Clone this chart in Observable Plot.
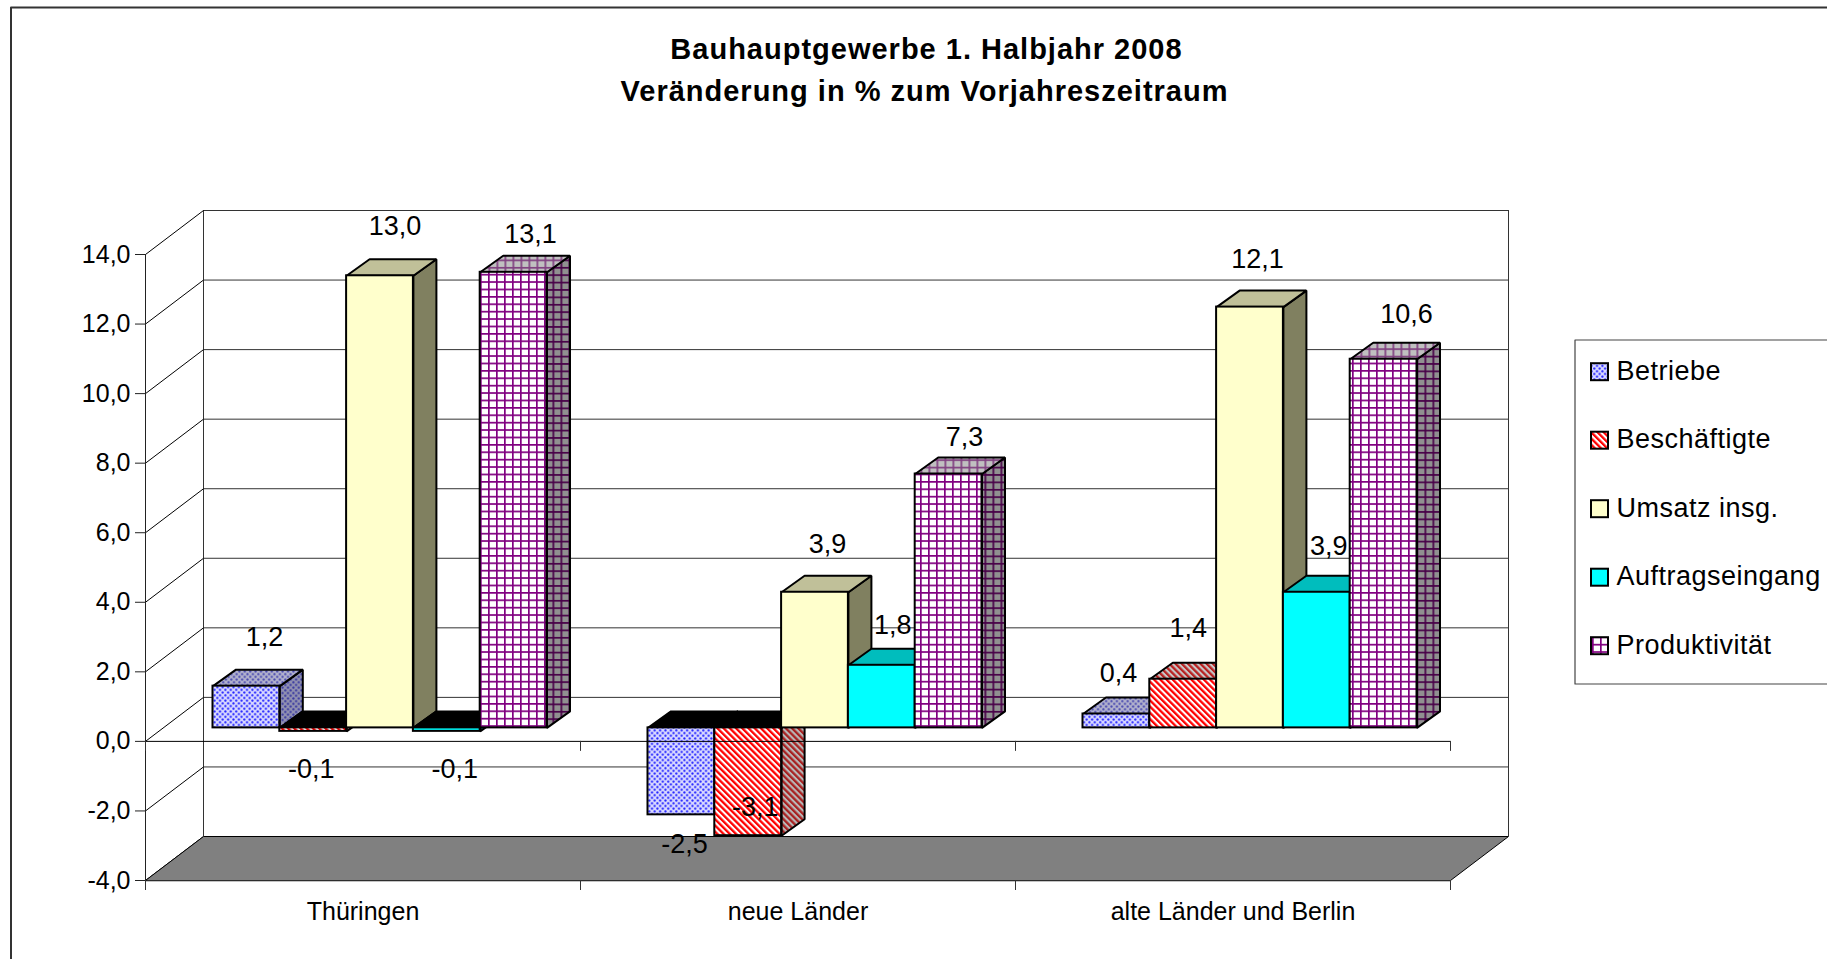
<!DOCTYPE html>
<html lang="de">
<head>
<meta charset="utf-8">
<title>Bauhauptgewerbe 1. Halbjahr 2008</title>
<script src="https://cdn.jsdelivr.net/npm/d3@7"></script>
<script src="https://cdn.jsdelivr.net/npm/@observablehq/plot@0.6"></script>
<style>
  html, body { margin: 0; padding: 0; background: #fff; overflow: hidden; }
  svg { display: block; }
  .legend-text text { letter-spacing: 0.5px; }
  .title-text text { letter-spacing: 1px; }
</style>
</head>
<body>
<div id="chart"></div>
<script>
// ---- data ----
const categories = ["Thüringen", "neue Länder", "alte Länder und Berlin"];
const seriesNames = ["Betriebe", "Beschäftigte", "Umsatz insg.", "Auftragseingang", "Produktivität"];
const betriebe = [1.2, -2.5, 0.4];
const beschaeftigte = [-0.1, -3.1, 1.4];
const umsatz = [13.0, 3.9, 12.1];
const auftragseingang = [-0.1, 1.8, 3.9];
const produktivitaet = [13.1, 7.3, 10.6];
const yTicks = [-4, -2, 0, 2, 4, 6, 8, 10, 12, 14];
const titleLines = ["Bauhauptgewerbe 1. Halbjahr 2008", "Veränderung in % zum Vorjahreszeitraum"];

// ---- layout (pixels of the picture) ----
const W = 1827, H = 959;
const pLeft = 145, pRight = 1450, pTop = 254, pBottom = 880;
const pxX = (pRight - pLeft) / 3, pxY = (pBottom - pTop) / 18;
const xu = px => (px - pLeft) / pxX;            // picture pixel -> x scale unit
const yu = px => -4 + (pBottom - px) / pxY;     // picture pixel -> y scale unit
const wallDx = 58 / pxX, wallDy = 44 / pxY;
const barStart = 67.5 / pxX, barW = 66.8 / pxX;
const barDx = 23 / pxX, barDy = 16.5 / pxY;
const baseY = 13.5 / pxY;
const tickLen = 10 / pxY;
// label offset from the bar's front-top centre, one row per category, one column per series
const labelDx = [[18, -2, 15, 8, 17], [3, 7, 12.5, 11, 16], [2, 5, 7.5, 12, 23]];
const labelDy = [[-49, 38, -49, 38, -38], [29.5, -28, -48, -40, -36.6], [-40.6, -51, -47.7, -46, -45]];

const seriesValues = [betriebe, beschaeftigte, umsatz, auftragseingang, produktivitaet];
const fmt = d => d.toFixed(1).replace(".", ",");
const font = "'Liberation Sans', Arial, sans-serif";

// ---- face fills ----
const faces = [
  {front: "url(#dotsF)", side: "url(#dotsS)", top: "url(#dotsT)"},
  {front: "url(#hatchF)", side: "url(#hatchS)", top: "url(#hatchT)"},
  {front: "#FFFFCC", side: "#808060", top: "#C0C099"},
  {front: "#00FFFF", side: "#008080", top: "#00BDBD"},
  {front: "url(#gridF)", side: "url(#gridS)", top: "url(#gridT)"}
];
const dots = (id, bg, fg) => `<pattern id="${id}" patternUnits="userSpaceOnUse" width="5.4" height="5.4">
  <rect width="5.4" height="5.4" fill="${bg}"/><circle cx="1.3" cy="1.3" r="1.1" fill="${fg}"/><circle cx="4" cy="4" r="1.1" fill="${fg}"/></pattern>`;
const hatch = (id, bg, fg) => `<pattern id="${id}" patternUnits="userSpaceOnUse" width="4.4" height="4.4" patternTransform="rotate(-45)">
  <rect width="4.4" height="4.4" fill="${bg}"/><rect width="2.3" height="4.4" fill="${fg}"/></pattern>`;
const grid = (id, bg, fg) => `<pattern id="${id}" patternUnits="userSpaceOnUse" width="8" height="7.4">
  <rect width="8" height="7.4" fill="${bg}"/><rect width="1.7" height="7.4" fill="${fg}"/><rect width="8" height="1.7" fill="${fg}"/></pattern>`;
const defsMark = () => {
  const d = document.createElementNS("http://www.w3.org/2000/svg", "defs");
  d.innerHTML = dots("dotsF", "#D8D8FF", "#2020FF") + dots("dotsS", "#9090B0", "#3838A0") + dots("dotsT", "#B0B0CC", "#4848B0")
    + hatch("hatchF", "#FFFFFF", "#FF0000") + hatch("hatchS", "#B8B8B8", "#A82020") + hatch("hatchT", "#C8C8C8", "#B82020")
    + grid("gridF", "#FFFFFF", "#800080") + grid("gridS", "#909090", "#480048") + grid("gridT", "#C0C0C0", "#804080");
  return d;
};

// ---- helpers ----
const poly = (pts, fill, strokeWidth = 2) => Plot.line(pts, {
  x: "x", y: "y", curve: "linear-closed", fill, stroke: "#000", strokeWidth, strokeLinejoin: "miter"
});
const path = (pts, stroke, strokeWidth) => Plot.line(pts, {x: "x", y: "y", stroke, strokeWidth});
const pxPts = list => list.map(([x, y]) => ({x: xu(x), y: yu(y)}));

// ---- bars ----
const barMarks = [];
categories.forEach((cat, i) => {
  seriesValues.forEach((vals, s) => {
    const v = vals[i];
    const x0 = i + barStart + s * barW, x1 = x0 + barW;
    const hi = Math.max(v, 0) + baseY, lo = Math.min(v, 0) + baseY;
    barMarks.push(
      poly([{x: x1, y: lo}, {x: x1, y: hi}, {x: x1 + barDx, y: hi + barDy}, {x: x1 + barDx, y: lo + barDy}], faces[s].side),
      poly([{x: x0, y: hi}, {x: x1, y: hi}, {x: x1 + barDx, y: hi + barDy}, {x: x0 + barDx, y: hi + barDy}], v < 0 ? "#000" : faces[s].top),
      Plot.rect([{x0, x1, lo, hi}], {x1: "x0", x2: "x1", y1: "lo", y2: "hi", fill: faces[s].front, stroke: "#000", strokeWidth: 2})
    );
  });
});

// ---- data labels ----
const labelMarks = [];
categories.forEach((cat, i) => {
  seriesValues.forEach((vals, s) => {
    const v = vals[i];
    labelMarks.push(Plot.text([v], {
      x: () => i + barStart + (s + 0.5) * barW,
      y: d => d + baseY,
      text: fmt,
      dx: labelDx[i][s], dy: labelDy[i][s],
      fontSize: 27, fontFamily: font, fill: "#000", textAnchor: "middle", lineAnchor: "middle"
    }));
  });
});

// ---- legend ----
const legendMarks = [path(pxPts([[1827, 339.5], [1574.5, 339.5], [1574.5, 683.5], [1827, 683.5]]), "#444", 1.2)];
seriesNames.forEach((name, s) => {
  const cy = 371.7 + s * 68.5;
  legendMarks.push(
    Plot.rect([s], {x1: () => xu(1591), x2: () => xu(1608), y1: () => yu(cy + 8.5), y2: () => yu(cy - 8.5),
      fill: faces[s].front, stroke: "#000", strokeWidth: 2}),
    Plot.text([name], {x: () => xu(1616), y: () => yu(cy - 1), text: d => d, fontSize: 27, fontFamily: font,
      textAnchor: "start", lineAnchor: "middle", fill: "#000", className: "legend-text"})
  );
});

// ---- plot ----
const chart = Plot.plot({
  width: W, height: H,
  marginLeft: pLeft, marginRight: W - pRight, marginTop: pTop, marginBottom: H - pBottom,
  style: {background: "#fff", fontFamily: font, overflow: "hidden", maxWidth: "none"},
  x: {type: "linear", domain: [0, 3], label: null},
  y: {type: "linear", domain: [-4, 14], label: null},
  marks: [
    defsMark,
    // chart area border
    path(pxPts([[10.5, 959], [10.5, 7], [1827, 7]]), "#333", 2),
    // back wall and grid
    Plot.ruleY(yTicks.slice(1), {y: d => d + wallDy, x1: () => wallDx, x2: () => 3 + wallDx, stroke: "#333", strokeWidth: 1}),
    Plot.ruleX([wallDx, 3 + wallDx], {y1: () => -4 + wallDy, y2: () => 14 + wallDy, stroke: "#333", strokeWidth: 1}),
    // side wall lines
    Plot.link(yTicks, {x1: () => 0, y1: d => d, x2: () => wallDx, y2: d => d + wallDy, stroke: "#000", strokeWidth: 1}),
    Plot.ruleX([0], {y1: () => -4, y2: () => 14, stroke: "#222", strokeWidth: 1}),
    // floor
    poly([{x: 0, y: -4}, {x: wallDx, y: -4 + wallDy}, {x: 3 + wallDx, y: -4 + wallDy}, {x: 3, y: -4}], "#808080", 1),
    // axes
    Plot.axisY({ticks: yTicks, tickFormat: fmt, tickSize: 10, tickPadding: 5, fontSize: 25, fontFamily: font, label: null, stroke: "#222", fill: "#000"}),
    Plot.axisX({ticks: [0, 1, 2, 3], tickFormat: () => "", tickSize: 10, label: null, stroke: "#333"}),
    // bars
    ...barMarks,
    // zero line with its ticks lies over the bars
    Plot.ruleY([0], {x1: () => 0, x2: () => 3, stroke: "#000", strokeWidth: 1}),
    Plot.ruleX([0, 1, 2, 3], {y1: () => 0, y2: () => -tickLen, stroke: "#333", strokeWidth: 1}),
    // category labels
    Plot.text(categories, {x: (d, i) => i + 0.5, y: () => -4, dy: 31, text: d => d, fontSize: 25, fontFamily: font, fill: "#000", textAnchor: "middle", lineAnchor: "middle"}),
    ...labelMarks,
    // title
    Plot.text([titleLines[0]], {x: () => xu(926), y: () => yu(49), text: d => d, fontSize: 29, fontWeight: "bold", fontFamily: font, fill: "#000", textAnchor: "middle", lineAnchor: "middle", className: "title-text"}),
    Plot.text([titleLines[1]], {x: () => xu(924), y: () => yu(91), text: d => d, fontSize: 29, fontWeight: "bold", fontFamily: font, fill: "#000", textAnchor: "middle", lineAnchor: "middle", className: "title-text"}),
    ...legendMarks
  ]
});
document.getElementById("chart").appendChild(chart);
</script>
</body>
</html>
